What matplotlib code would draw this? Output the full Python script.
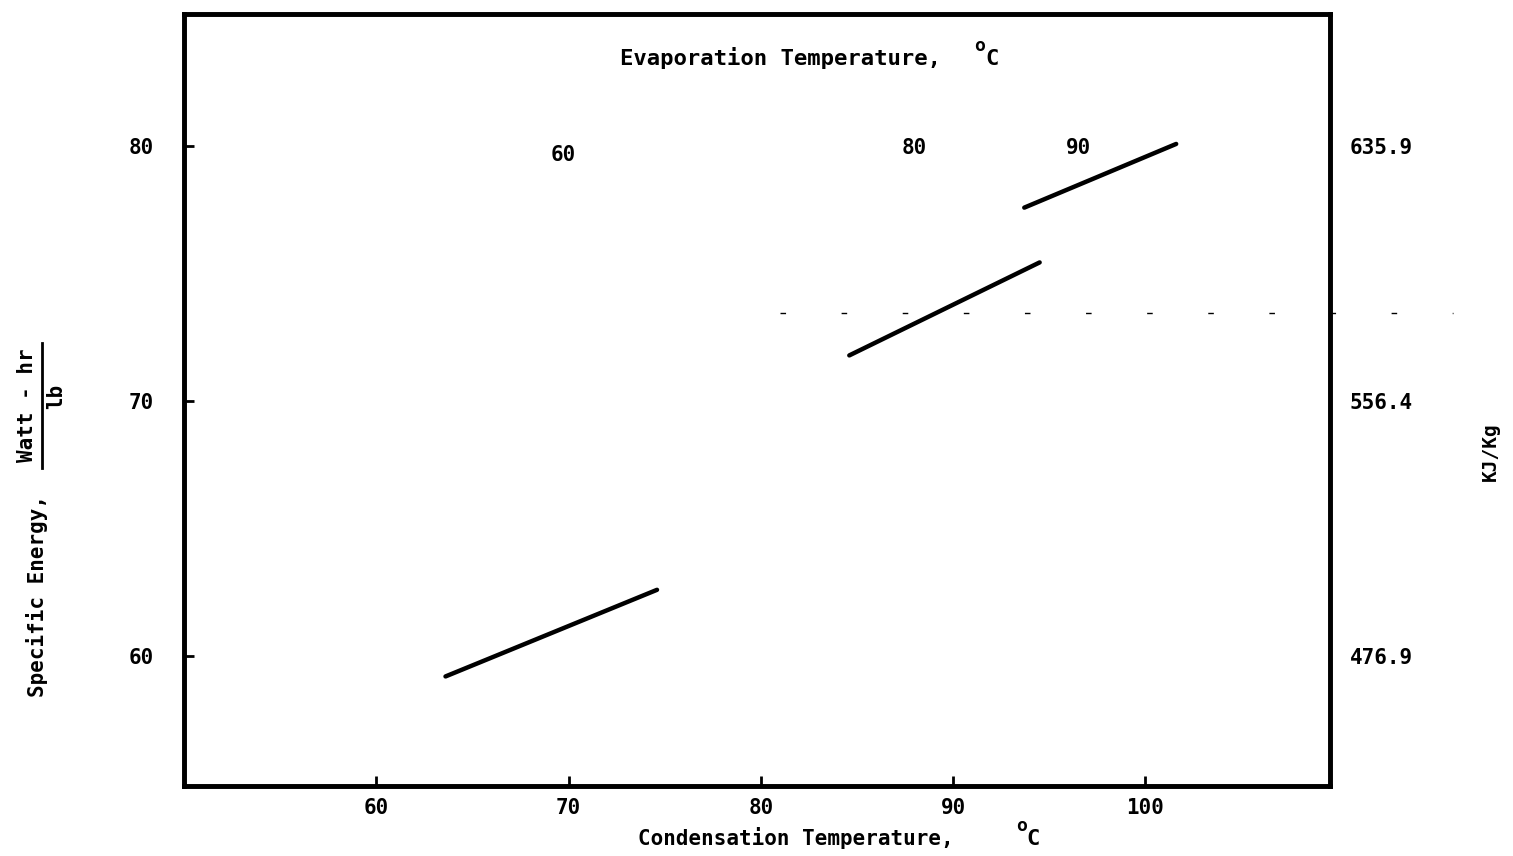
import matplotlib
matplotlib.use("Agg")
import matplotlib.pyplot as plt

# Data
cond_ticks = [60, 70, 80, 90, 100]
energy_ticks = [60, 70, 80]
kj_labels = ["476.9", "556.4", "635.9"]

evap_labels = ["60", "80", "90"]
evap_label_x = [69.7, 88.0, 96.5]
evap_label_y = [79.65, 79.95, 79.95]

# Lines (condensation temp, specific energy) per evaporation temperature
line60_x = [63.6, 74.6]
line60_y = [59.2, 62.6]
line80_x = [84.6, 94.5]
line80_y = [71.8, 75.45]
line90_x = [93.7, 101.6]
line90_y = [77.6, 80.1]

FONT = "DejaVu Sans Mono"
W, H = 1513, 856
fig = plt.figure(figsize=(W / 100, H / 100), dpi=100)
ax = fig.add_axes([184 / W, 1 - 786 / H, (1330 - 184) / W, (786 - 14) / H])
ax.set_xlim(50, 109.6)
ax.set_ylim(54.9, 85.2)

for xs, ys in [(line60_x, line60_y), (line80_x, line80_y), (line90_x, line90_y)]:
    ax.plot(xs, ys, color="black", lw=3.2, solid_capstyle="round")

# faint dashed scan line
ax.plot([81.0, 116.0], [73.45, 73.45], color="black", lw=1.0,
        dashes=(4, 40), clip_on=False)

for s in ax.spines.values():
    s.set_linewidth(3.3)

ax.set_xticks(cond_ticks)
ax.set_xticklabels([str(v) for v in cond_ticks], fontfamily=FONT,
                   fontweight="bold", fontsize=15)
ax.set_yticks(energy_ticks)
ax.set_yticklabels([str(v) for v in energy_ticks], fontfamily=FONT,
                   fontweight="bold", fontsize=15)
ax.tick_params(axis="x", direction="in", length=7, width=2, pad=9)
ax.tick_params(axis="y", direction="in", length=7, width=2, pad=22)

ax2 = ax.twinx()
ax2.set_ylim(ax.get_ylim())
ax2.set_yticks(energy_ticks)
ax2.set_yticklabels(kj_labels, fontfamily=FONT, fontweight="bold", fontsize=15)
ax2.tick_params(axis="y", direction="in", length=0, pad=14)
for s in ax2.spines.values():
    s.set_linewidth(3.3)

for lab, x, y in zip(evap_labels, evap_label_x, evap_label_y):
    ax.text(x, y, lab, ha="center", va="center", fontfamily=FONT,
            fontweight="bold", fontsize=15)


def ftext(px, py, s, **kw):
    kw.setdefault("fontfamily", FONT)
    kw.setdefault("fontweight", "bold")
    fig.text(px / W, 1 - py / H, s, **kw)


# top title
ftext(780, 58, "Evaporation Temperature,", ha="center", va="center", fontsize=16)
ftext(980, 46, "o", ha="center", va="center", fontsize=13)
ftext(992, 59, "C", ha="center", va="center", fontsize=16)

# bottom label
ftext(796, 838, "Condensation Temperature,", ha="center", va="center", fontsize=15)
ftext(1022, 826, "o", ha="center", va="center", fontsize=13)
ftext(1033, 839, "C", ha="center", va="center", fontsize=16)

# left label
ftext(37, 596, "Specific Energy,", ha="center", va="center", rotation=90,
      fontsize=15)
ftext(27, 405, "Watt - hr", ha="center", va="center", rotation=90, fontsize=15)
ftext(56, 396, "lb", ha="center", va="center", rotation=90, fontsize=15)
fig.add_artist(plt.Line2D([42 / W, 42 / W], [1 - 468 / H, 1 - 343 / H],
                          color="black", lw=2))

# right label
ftext(1490, 452, "KJ/Kg", ha="center", va="center", rotation=90, fontsize=14)

fig.savefig("out.png", dpi=100)
